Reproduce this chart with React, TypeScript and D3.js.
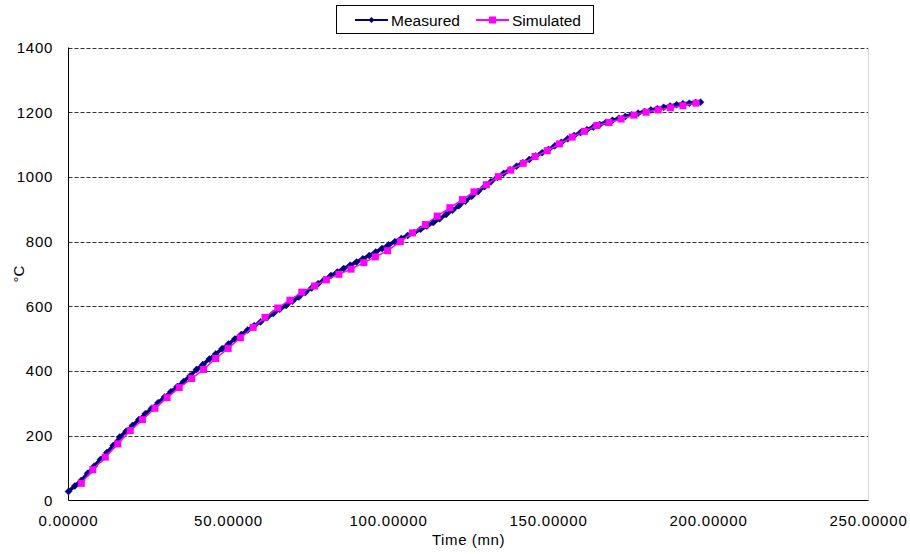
import React from "react";
import * as d3 from "d3";

const measuredTime = [0,2,4,6,8,10,12,14,16,18,20,22,24,26,28,30,32,34,36,38,40,42,44,46,48,50,52,54,56,58,60,62,64,66,68,70,72,74,76,78,80,82,84,86,88,90,92,94,96,98,100,102,104,106,108,110,112,114,116,118,120,122,124,126,128,130,132,134,136,138,140,142,144,146,148,150,152,154,156,158,160,162,164,166,168,170,172,174,176,178,180,182,184,186,188,190,192,194,196,197.5];
const measuredTemp = [28,45,62,84,106,127,148,170,196,214,232,250,268,285,302,320,336,352,368,385,405,420,437,453,469,484,499,513,527,540,552,565,578,591,603,616,629,643,657,670,683,695,706,717,727,737,747,757,768,779,790,800,810,819,828,838,848,859,871,884,897,911,925,940,955,970,985,999,1011,1022,1033,1044,1054,1065,1075,1085,1096,1107,1118,1128,1137,1146,1154,1162,1169,1175,1181,1187,1192,1197,1202,1207,1211,1215,1219,1223,1226,1228,1230,1231];

const simulatedTime = [4.0,7.6,11.5,15.4,19.3,23.1,27.0,30.8,34.6,38.5,42.2,46.0,49.9,53.7,57.7,61.4,65.4,69.2,72.9,76.9,80.6,84.5,88.3,92.3,95.9,99.7,103.7,107.5,111.5,115.2,119.2,123.1,126.7,130.6,134.3,138.2,142.1,145.8,149.6,153.4,157.4,161.2,165.1,168.9,172.7,176.7,180.5,184.3,188.1,192.0,196.1];
const simulatedTemp = [53,95,134,175,216,250,285,318,349,377,405,439,470,503,535,566,595,619,644,663,682,699,715,735,753,772,800,827,853,879,905,930,954,976,1001,1021,1042,1063,1081,1102,1123,1141,1159,1168,1179,1191,1200,1207,1214,1220,1228];

const xTicks = [0, 50, 100, 150, 200, 250];
const yTicks = [0, 200, 400, 600, 800, 1000, 1200, 1400];
const seriesNames = ["Measured", "Simulated"];

const W = 910, H = 554;
const FONT = "'Liberation Sans', Arial, sans-serif";

export default function App() {
  const x = d3.scaleLinear().domain([0, 250]).range([68.5, 868.5]);
  const y = d3.scaleLinear().domain([0, 1400]).range([500.5, 47.5]);

  const measured = measuredTime.map((t, i) => [t, measuredTemp[i]] as [number, number]);
  const simulated = simulatedTime.map((t, i) => [t, simulatedTemp[i]] as [number, number]);
  const line = d3.line<[number, number]>().x(d => x(d[0])).y(d => y(d[1]));

  const navy = "#000080";
  const magenta = "#FF00FF";
  const diamond = (cx: number, cy: number, r: number) =>
    `M${cx},${cy - r}L${cx + r},${cy}L${cx},${cy + r}L${cx - r},${cy}Z`;

  return (
    <svg width={W} height={H} style={{ position: "absolute", left: 0, top: 0, background: "#fff" }} fontFamily={FONT}>
      <rect x={0} y={0} width={W} height={H} fill="#fff" />
      {/* gridlines */}
      {yTicks.filter(v => v > 0).map(v => (
        <line key={v} x1={x(0)} x2={x(250)} y1={Math.round(y(v)) + 0.5} y2={Math.round(y(v)) + 0.5}
          stroke="#333" strokeWidth={1} strokeDasharray="4,2" />
      ))}
      {/* right border */}
      <line x1={x(250)} x2={x(250)} y1={y(1400)} y2={y(0)} stroke="#d9d9d9" strokeWidth={1} />
      {/* axes */}
      <line x1={x(0)} x2={x(0)} y1={y(1400)} y2={y(0)} stroke="#000" strokeWidth={1} />
      <line x1={x(0)} x2={x(250)} y1={y(0)} y2={y(0)} stroke="#000" strokeWidth={1} />
      {/* y tick labels */}
      {yTicks.map(v => (
        <text key={v} x={53} y={y(v)} dy="0.36em" textAnchor="end" fontSize={15} letterSpacing={0.7} fill="#000">{v}</text>
      ))}
      {/* x tick labels */}
      {xTicks.map(v => (
        <text key={v} x={x(v)} y={526} textAnchor="middle" fontSize={15} letterSpacing={0.8} fill="#000">{v.toFixed(5)}</text>
      ))}
      {/* axis titles */}
      <text x={(x(0) + x(250)) / 2} y={545} textAnchor="middle" fontSize={15} letterSpacing={0.6} fill="#000">Time (mn)</text>
      <text transform={`translate(24,274) rotate(-90)`} textAnchor="middle" fontSize={15} fill="#000">°C</text>

      {/* measured */}
      <path d={line(measured) || ""} fill="none" stroke={navy} strokeWidth={3.5} strokeLinejoin="round" />
      {measured.map((d, i) => (
        <path key={i} d={diamond(x(d[0]), y(d[1]), 3.5)} fill={navy} stroke={navy} strokeWidth={0.5} />
      ))}
      {/* simulated */}
      <path d={line(simulated) || ""} fill="none" stroke={magenta} strokeWidth={1.5} />
      {simulated.map((d, i) => (
        <rect key={i} x={x(d[0]) - 3.5} y={y(d[1]) - 3.5} width={7} height={7} fill={magenta} />
      ))}

      {/* legend */}
      <rect x={336.5} y={5.5} width={257} height={28} fill="#fff" stroke="#000" strokeWidth={1} />
      <line x1={355} x2={388} y1={20} y2={20} stroke={navy} strokeWidth={2} />
      <path d={diamond(371.5, 20, 3)} fill={navy} />
      <text x={391} y={25.5} fontSize={15.5} fill="#000">{seriesNames[0]}</text>
      <line x1={476} x2={509} y1={20} y2={20} stroke={magenta} strokeWidth={2} />
      <rect x={489} y={16.5} width={7} height={7} fill={magenta} />
      <text x={512} y={25.5} fontSize={15.5} fill="#000">{seriesNames[1]}</text>
    </svg>
  );
}
